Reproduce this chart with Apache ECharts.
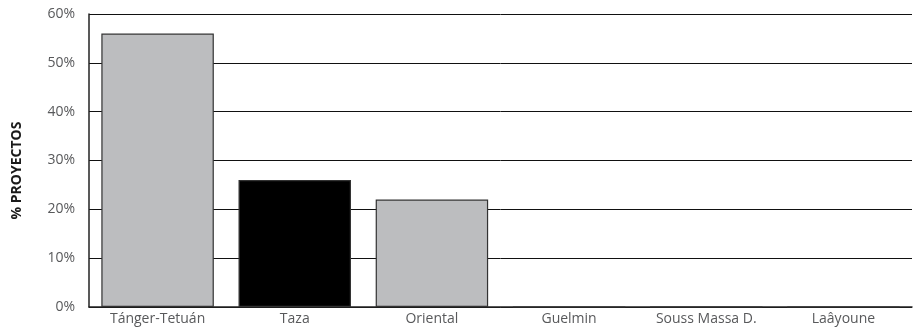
<!DOCTYPE html>
<html>
<head>
<meta charset="utf-8">
<script src="https://cdn.jsdelivr.net/npm/echarts@6/dist/echarts.min.js"></script>
<style>
  html, body { margin: 0; padding: 0; background: #fff; }
  #chart { width: 913px; height: 332px; }
</style>
</head>
<body>
<div id="chart"></div>
<script>
// regiones y porcentaje de proyectos
var regions = ['Tánger-Tetuán', 'Taza', 'Oriental', 'Guelmin', 'Souss Massa D.', 'Laâyoune']
var projects = [56, 26, 22, 0, 0, 0]
var barColors = ['#bcbdbf', '#000000', '#bcbdbf', '#bcbdbf', '#bcbdbf', '#bcbdbf']

var chart = echarts.init(document.getElementById('chart'))
chart.setOption({
  animation: false,
  textStyle: { fontFamily: 'Open Sans' },
  grid: { left: 89, right: 1, top: 14, bottom: 25 },
  xAxis: {
    type: 'category',
    data: regions,
    axisLine: { lineStyle: { color: '#222', width: 1.5 } },
    axisTick: { inside: true, length: 7, lineStyle: { color: '#222' } },
    axisLabel: { color: '#58595b', fontSize: 14, margin: 5 }
  },
  yAxis: {
    type: 'value',
    min: 0,
    max: 60,
    interval: 10,
    name: '% PROYECTOS',
    nameLocation: 'middle',
    nameGap: 65,
    nameRotate: 90,
    nameTextStyle: { color: '#1a1a1a', fontSize: 14, fontWeight: 'bold', padding: [0, 20, 0, 0] },
    axisLine: { show: true, lineStyle: { color: '#222', width: 1.5 } },
    axisTick: { show: false },
    axisLabel: { color: '#58595b', fontSize: 14, margin: 14, formatter: '{value}%' },
    splitLine: { lineStyle: { color: '#111', width: 1 } }
  },
  series: [{
    type: 'bar',
    barCategoryGap: '18%',
    data: projects.map(function (v, i) {
      return { value: v, itemStyle: { color: barColors[i] } }
    }),
    itemStyle: { borderColor: '#333', borderWidth: 1.2 }
  }]
})
</script>
</body>
</html>
